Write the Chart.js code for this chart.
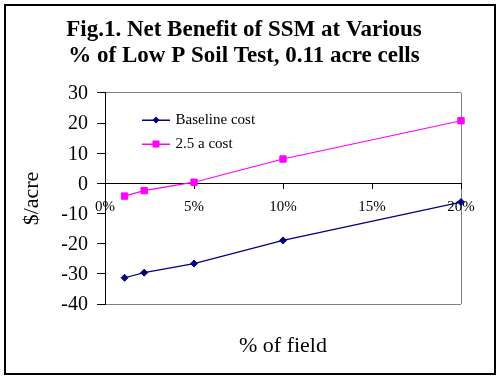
<!DOCTYPE html>
<html><head><meta charset="utf-8">
<script src="https://cdn.jsdelivr.net/npm/chart.js@4"></script>
<style>html,body{margin:0;padding:0;background:#fff;}#wrap{width:501px;height:379px;}</style>
</head><body><div id="wrap"><canvas id="c" width="501" height="379"></canvas></div>
<script>
const titleLines = ['Fig.1. Net Benefit of SSM at Various', '% of Low P Soil Test, 0.11 acre cells'];
const xTitle = '% of field';
const yTitle = '$/acre';
const seriesNames = ['Baseline cost', '2.5 a cost'];
const fieldPct = [1.1, 2.2, 5, 10, 20];
const baselineCost = [-31.3, -29.6, -26.6, -18.9, -6.2];
const aCost = [-4.2, -2.4, 0.4, 8.1, 20.8];
const yTicks = [-40, -30, -20, -10, 0, 10, 20, 30];
const xTicks = [0, 5, 10, 15, 20];

const serif = "'Liberation Serif', 'Times New Roman', Times, serif";
const navy = '#000080', pink = '#FF00FF', gray = '#808080';

function legendImg(color, diamond) {
  const c = document.createElement('canvas'); c.width = 28; c.height = 10;
  const g = c.getContext('2d');
  g.fillStyle = color;
  g.fillRect(0, 4.5, 28, 1.5);
  if (diamond) { g.beginPath(); g.moveTo(14, 1.5); g.lineTo(17.5, 5); g.lineTo(14, 8.5); g.lineTo(10.5, 5); g.closePath(); g.fill(); }
  else g.fillRect(10.5, 1.5, 7, 7);
  return c;
}
const legendImgs = [legendImg(navy, true), legendImg(pink, false)];

const framePlugin = {
  id: 'frame',
  beforeDraw(chart) {
    const g = chart.ctx; g.save();
    g.fillStyle = '#fff'; g.fillRect(0, 0, chart.width, chart.height);
    g.strokeStyle = '#000'; g.lineWidth = 2; g.strokeRect(5, 5, 490, 369);
    g.restore();
  },
  afterLayout(chart) {
    const lg = chart.legend; if (!lg) return;
    lg.left = 135; lg.top = 103.5; lg.right = 461; lg.bottom = 304;
    lg.width = lg.right - lg.left; lg.height = lg.bottom - lg.top;
  }
};

const frameGrid = (vals) => (ctx) => (ctx.tick && vals.includes(ctx.tick.value)) ? gray : 'rgba(0,0,0,0)';

new Chart(document.getElementById('c'), {
  type: 'line',
  data: {
    datasets: [
      { label: seriesNames[0], data: fieldPct.map((x, i) => ({x, y: baselineCost[i]})),
        borderColor: navy, backgroundColor: navy, borderWidth: 1.2, pointStyle: 'rectRot',
        pointRadius: 3.5, pointBorderWidth: 1, pointBackgroundColor: navy, pointBorderColor: navy, clip: false, tension: 0 },
      { label: seriesNames[1], data: fieldPct.map((x, i) => ({x, y: aCost[i]})),
        borderColor: pink, backgroundColor: pink, borderWidth: 1.2, pointStyle: 'rect',
        pointRadius: 4.5, pointBorderWidth: 1, pointBackgroundColor: pink, pointBorderColor: pink, clip: false, tension: 0 }
    ]
  },
  options: {
    responsive: false, animation: false, devicePixelRatio: 1, events: [],
    layout: { padding: { left: 5, right: 18, top: 5, bottom: 4 } },
    plugins: {
      title: { display: true, text: titleLines, color: '#000',
        font: { family: serif, size: 23, weight: 'bold', lineHeight: 1.13 },
        padding: { top: 12, bottom: 24 } },
      legend: { display: true, position: 'chartArea', align: 'start',
        labels: { usePointStyle: true, pointStyleWidth: 24, padding: 9, color: '#000',
          font: { family: serif, size: 15 },
          generateLabels: (chart) => Chart.defaults.plugins.legend.labels.generateLabels(chart)
            .map((it, i) => Object.assign(it, { pointStyle: legendImgs[i] })) } },
      tooltip: { enabled: false }
    },
    scales: {
      x: { type: 'linear', position: { y: 0 }, min: 0, max: 20,
        afterBuildTicks: (s) => { s.ticks = xTicks.map(v => ({ value: v })); },
        ticks: { callback: (v) => v + '%', color: '#000', padding: 10, maxRotation: 0, font: { family: serif, size: 15 } },
        grid: { drawOnChartArea: true, color: frameGrid([20]), tickColor: '#000', tickLength: 5, lineWidth: 1 },
        border: { display: true, color: '#000', width: 1 } },
      xt: { type: 'linear', position: 'bottom', min: 0, max: 1,
        afterFit: (s) => { s.height = 71; },
        ticks: { display: false }, grid: { display: false }, border: { display: false },
        title: { display: true, text: xTitle, color: '#000', font: { family: serif, size: 22 }, padding: { top: 0, bottom: 16 } } },
      y: { type: 'linear', position: 'left', min: -40, max: 30,
        afterFit: (s) => { s.width = 100; },
        afterBuildTicks: (s) => { s.ticks = yTicks.map(v => ({ value: v })); },
        ticks: { callback: (v) => String(v), color: '#000', padding: 9, labelOffset: 1, font: { family: serif, size: 20 } },
        grid: { drawOnChartArea: true, color: frameGrid([30, -40]), tickColor: '#000', tickLength: 8, lineWidth: 1 },
        border: { display: true, color: '#000', width: 1 },
        title: { display: true, text: yTitle, color: '#000', font: { family: serif, size: 22 }, padding: { top: 14, bottom: 0 } } },
      yr: { type: 'linear', position: 'right', min: 0, max: 1,
        afterFit: (s) => { s.width = 22; },
        ticks: { display: false }, grid: { display: false }, border: { display: false } }
    }
  },
  plugins: [framePlugin]
});
</script>
</body></html>
